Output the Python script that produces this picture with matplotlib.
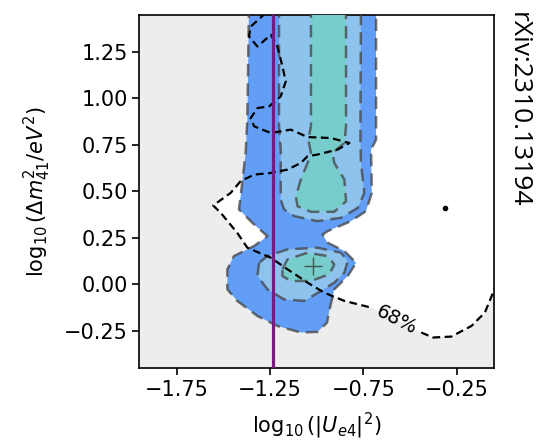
import numpy as np
import matplotlib
matplotlib.use("Agg")
import matplotlib.pyplot as plt

# ---- data (log10 |Ue4|^2, log10 dm41^2) ----
outer_x = [-1.363, -1.372, -1.381, -1.408, -1.417, -1.345, -1.264, -1.336, -1.444, -1.479,
           -1.479, -1.426, -1.318, -1.211, -1.085, -0.996, -0.945, -0.927, -0.906, -0.834,
           -0.789, -0.852, -0.942, -0.969, -0.942, -0.816, -0.736, -0.705, -0.709, -0.682, -0.682]
outer_y = [1.50, 0.886, 0.707, 0.474, 0.403, 0.331, 0.259, 0.206, 0.152, 0.081,
           -0.027, -0.089, -0.170, -0.224, -0.259, -0.256, -0.206, -0.116, -0.027, 0.045,
           0.116, 0.179, 0.224, 0.268, 0.286, 0.340, 0.394, 0.492, 0.725, 0.778, 1.50]

mid_up_x = [-1.202, -1.202, -1.193, -1.193, -1.175, -1.121, -0.996, -0.870, -0.780, -0.745,
            -0.763, -0.766, -0.763]
mid_up_y = [1.50, 0.850, 0.725, 0.456, 0.403, 0.367, 0.340, 0.358, 0.411, 0.492,
            0.653, 0.778, 1.50]

mid_lo_x = [-1.309, -1.318, -1.264, -1.175, -1.067, -0.978, -0.906, -0.852, -0.834, -0.870,
            -0.996, -1.157, -1.264]
mid_lo_y = [0.116, 0.045, -0.027, -0.081, -0.089, -0.036, 0.009, 0.063, 0.125, 0.170,
            0.197, 0.188, 0.152]

in_up_x = [-1.031, -1.031, -1.045, -1.031, -1.049, -1.085, -1.112, -1.103, -1.031, -0.906,
           -0.843, -0.852, -0.906, -0.915, -0.852, -0.843, -0.843]
in_up_y = [1.50, 0.850, 0.778, 0.707, 0.653, 0.564, 0.474, 0.420, 0.390, 0.390,
           0.447, 0.564, 0.653, 0.707, 0.760, 0.850, 1.50]

in_lo_x = [-1.184, -1.157, -1.049, -0.942, -0.906, -0.933, -1.031, -1.139, -1.184]
in_lo_y = [0.081, 0.134, 0.170, 0.152, 0.107, 0.054, 0.018, 0.018, 0.045]

# other experiment 68% contour, split at the inline label
c68a_x = [-1.273, -1.354, -1.363, -1.318, -1.246, -1.211, -1.184, -1.166, -1.193, -1.255,
          -1.318, -1.354, -1.336, -1.246, -1.139, -1.049, -0.924, -0.825, -0.888, -0.996,
          -1.049, -1.085, -1.157, -1.246, -1.336, -1.408, -1.461, -1.555, -1.515, -1.426,
          -1.372, -1.246, -1.157, -1.049, -0.960, -0.852, -0.709]
c68a_y = [1.46, 1.386, 1.333, 1.279, 1.342, 1.279, 1.172, 1.091, 1.011, 0.957,
          0.948, 0.894, 0.850, 0.814, 0.832, 0.792, 0.787, 0.760, 0.725, 0.698,
          0.689, 0.653, 0.617, 0.599, 0.590, 0.555, 0.492, 0.424, 0.385, 0.277,
          0.197, 0.143, 0.081, 0.009, -0.045, -0.089, -0.125]
c68b_x = [-0.440, -0.377, -0.279, -0.171, -0.099, -0.055, -0.042, -0.030]
c68b_y = [-0.259, -0.286, -0.281, -0.224, -0.152, -0.045, -0.009, 0.010]
label_68 = (-0.575, -0.19)
island_68 = (-0.314, 0.411)

best_fit = (-1.02, 0.10)
ue4_limit = -1.237

xticks = [-1.75, -1.25, -0.75, -0.25]
yticks = [-0.25, 0.0, 0.25, 0.5, 0.75, 1.0, 1.25]

# ---- figure ----
fig = plt.figure(figsize=(5.39, 4.42), dpi=100)
ax = fig.add_axes([0.2588, 0.1674, 0.6577, 0.7993])
ax.set_facecolor("#ededed")

# white = inside the 68% region of the other experiment
wx = c68a_x + [label_68[0]] + c68b_x + [0.0, 0.0, c68a_x[0]]
wy = c68a_y + [label_68[1]] + c68b_y + [0.010, 1.6, 1.6]
ax.fill(wx, wy, color="white", lw=0, zorder=1)

blue_out, blue_mid, teal = "#629ef5", "#8ec3ee", "#77cdcc"
dash_kw = dict(color="#444444", lw=1.8, ls=(0, (5, 2.8)), alpha=0.75, zorder=4)

ax.fill(outer_x, outer_y, color=blue_out, lw=0, zorder=2)
ax.fill(mid_up_x, mid_up_y, color=blue_mid, lw=0, zorder=2.5)
ax.fill(mid_lo_x, mid_lo_y, color=blue_mid, lw=0, zorder=2.5)
ax.fill(in_up_x, in_up_y, color=teal, lw=0, zorder=3)
ax.fill(in_lo_x, in_lo_y, color=teal, lw=0, zorder=3)

ax.plot(outer_x, outer_y, **dash_kw)
ax.plot(mid_up_x, mid_up_y, **dash_kw)
ax.plot(mid_lo_x + mid_lo_x[:1], mid_lo_y + mid_lo_y[:1], **dash_kw)
ax.plot(in_up_x, in_up_y, **dash_kw)
ax.plot(in_lo_x + in_lo_x[:1], in_lo_y + in_lo_y[:1], **dash_kw)

ax.plot(best_fit[0], best_fit[1], marker="+", ms=13, mew=1.0, color="#3a5a50", zorder=5)

ax.plot(c68a_x, c68a_y, color="black", lw=1.6, ls=(0, (3.5, 2)), zorder=6)
ax.plot(c68b_x, c68b_y, color="black", lw=1.6, ls=(0, (3.5, 2)), zorder=6)
ax.plot(*island_68, marker="o", ms=3, color="black", zorder=6)
ax.text(label_68[0], label_68[1], "68%", fontsize=14, rotation=-27,
        ha="center", va="center", zorder=6)

ax.axvline(ue4_limit, color="#7d1883", lw=2.3, zorder=7)

ax.set_xlim(-1.95, -0.05)
ax.set_ylim(-0.45, 1.45)
ax.set_xticks(xticks)
ax.set_yticks(yticks)
ax.tick_params(labelsize=15, length=5, width=1.2)
for s in ax.spines.values():
    s.set_linewidth(1.2)
ax.set_xlabel(r"$\log_{10}(|U_{e4}|^2)$", fontsize=15, labelpad=8)
ax.set_ylabel(r"$\log_{10}(\Delta m^2_{41}/eV^2)$", fontsize=15, labelpad=8)

fig.text(0.961, 0.9735, "rXiv:2310.13194", rotation=-90, fontsize=19,
         ha="center", va="top", family="Open Sans")

fig.savefig("out.png", dpi=100)
